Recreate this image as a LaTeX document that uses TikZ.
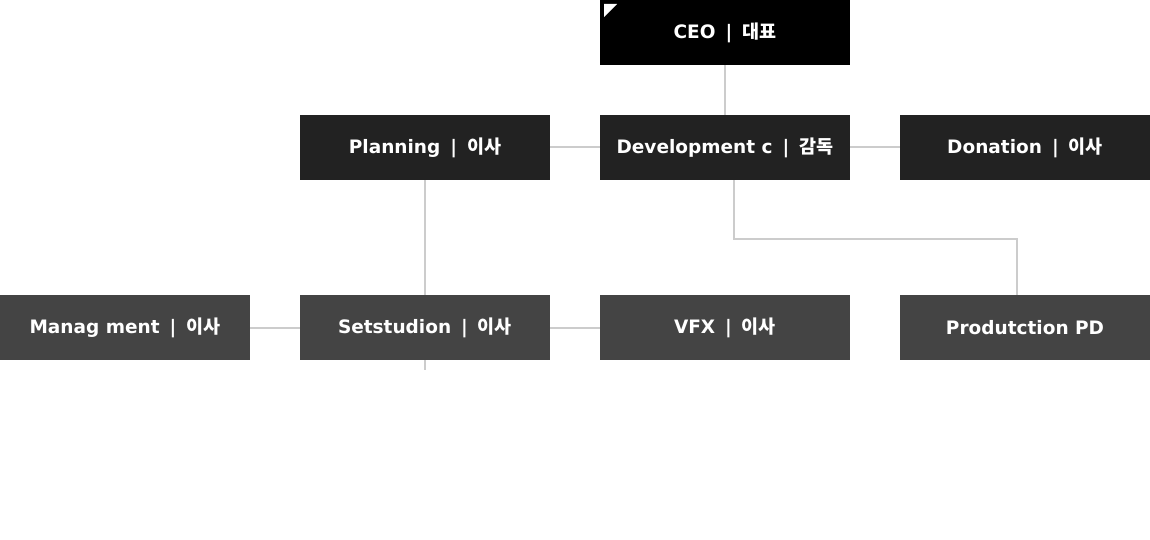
\documentclass[tikz,border=0pt]{standalone}
\usepackage{fontspec}
\setmainfont{DejaVu Sans}
\newfontfamily\krfont{Noto Sans CJK KR Bold}
\newcommand{\orgsep}{\hspace{10pt}|\hspace{10pt}}
\definecolor{boxA}{HTML}{000000}
\definecolor{boxB}{HTML}{222222}
\definecolor{boxC}{HTML}{444444}
\definecolor{linkc}{HTML}{CCCCCC}
\tikzset{
  orgbox/.style={draw=none, minimum width=250pt, minimum height=65pt, inner sep=0pt, text=white, font=\fontsize{18.5}{21}\selectfont\bfseries},
  toprow/.style={orgbox, fill=boxA},
  midrow/.style={orgbox, fill=boxB},
  lowrow/.style={orgbox, fill=boxC},
  link/.style={draw=linkc, line width=2pt}
}
\begin{document}
\begin{tikzpicture}[x=1pt,y=-1pt]
\useasboundingbox (0,0) rectangle (1150,540);
\node[toprow] (ceo) at (725,32.5) {CEO\orgsep{\krfont 대표}};
\fill[white] (604,4) -- (617,4) -- (604,17) -- cycle;
\node[midrow] (plan) at (425,147.5) {Planning\orgsep{\krfont 이사}};
\node[midrow] (dev) at (725,147.5) {Development c\orgsep{\krfont 감독}};
\node[midrow] (don) at (1025,147.5) {Donation\orgsep{\krfont 이사}};
\node[lowrow] (man) at (125,327.5) {Manag ment\orgsep{\krfont 이사}};
\node[lowrow] (set) at (425,327.5) {Setstudion\orgsep{\krfont 이사}};
\node[lowrow] (vfx) at (725,327.5) {VFX\orgsep{\krfont 이사}};
\node[lowrow] (prod) at (1025,327.5) {Produtction PD};
\coordinate (k1) at (734,239);
\coordinate (k2) at (1017,239);
\coordinate (s1) at (425,370);
\draw[link] (ceo.south) -- (dev.north);
\draw[link] (plan.east) -- (dev.west);
\draw[link] (dev.east) -- (don.west);
\draw[link] (plan.south) -- (set.north);
\draw[link] (set.south) -- (s1);
\draw[link] (man.east) -- (set.west);
\draw[link] (set.east) -- (vfx.west);
\draw[link] (dev.south -| k1) -- (k1) -- (k2) -- (prod.north -| k2);
\end{tikzpicture}
\end{document}
